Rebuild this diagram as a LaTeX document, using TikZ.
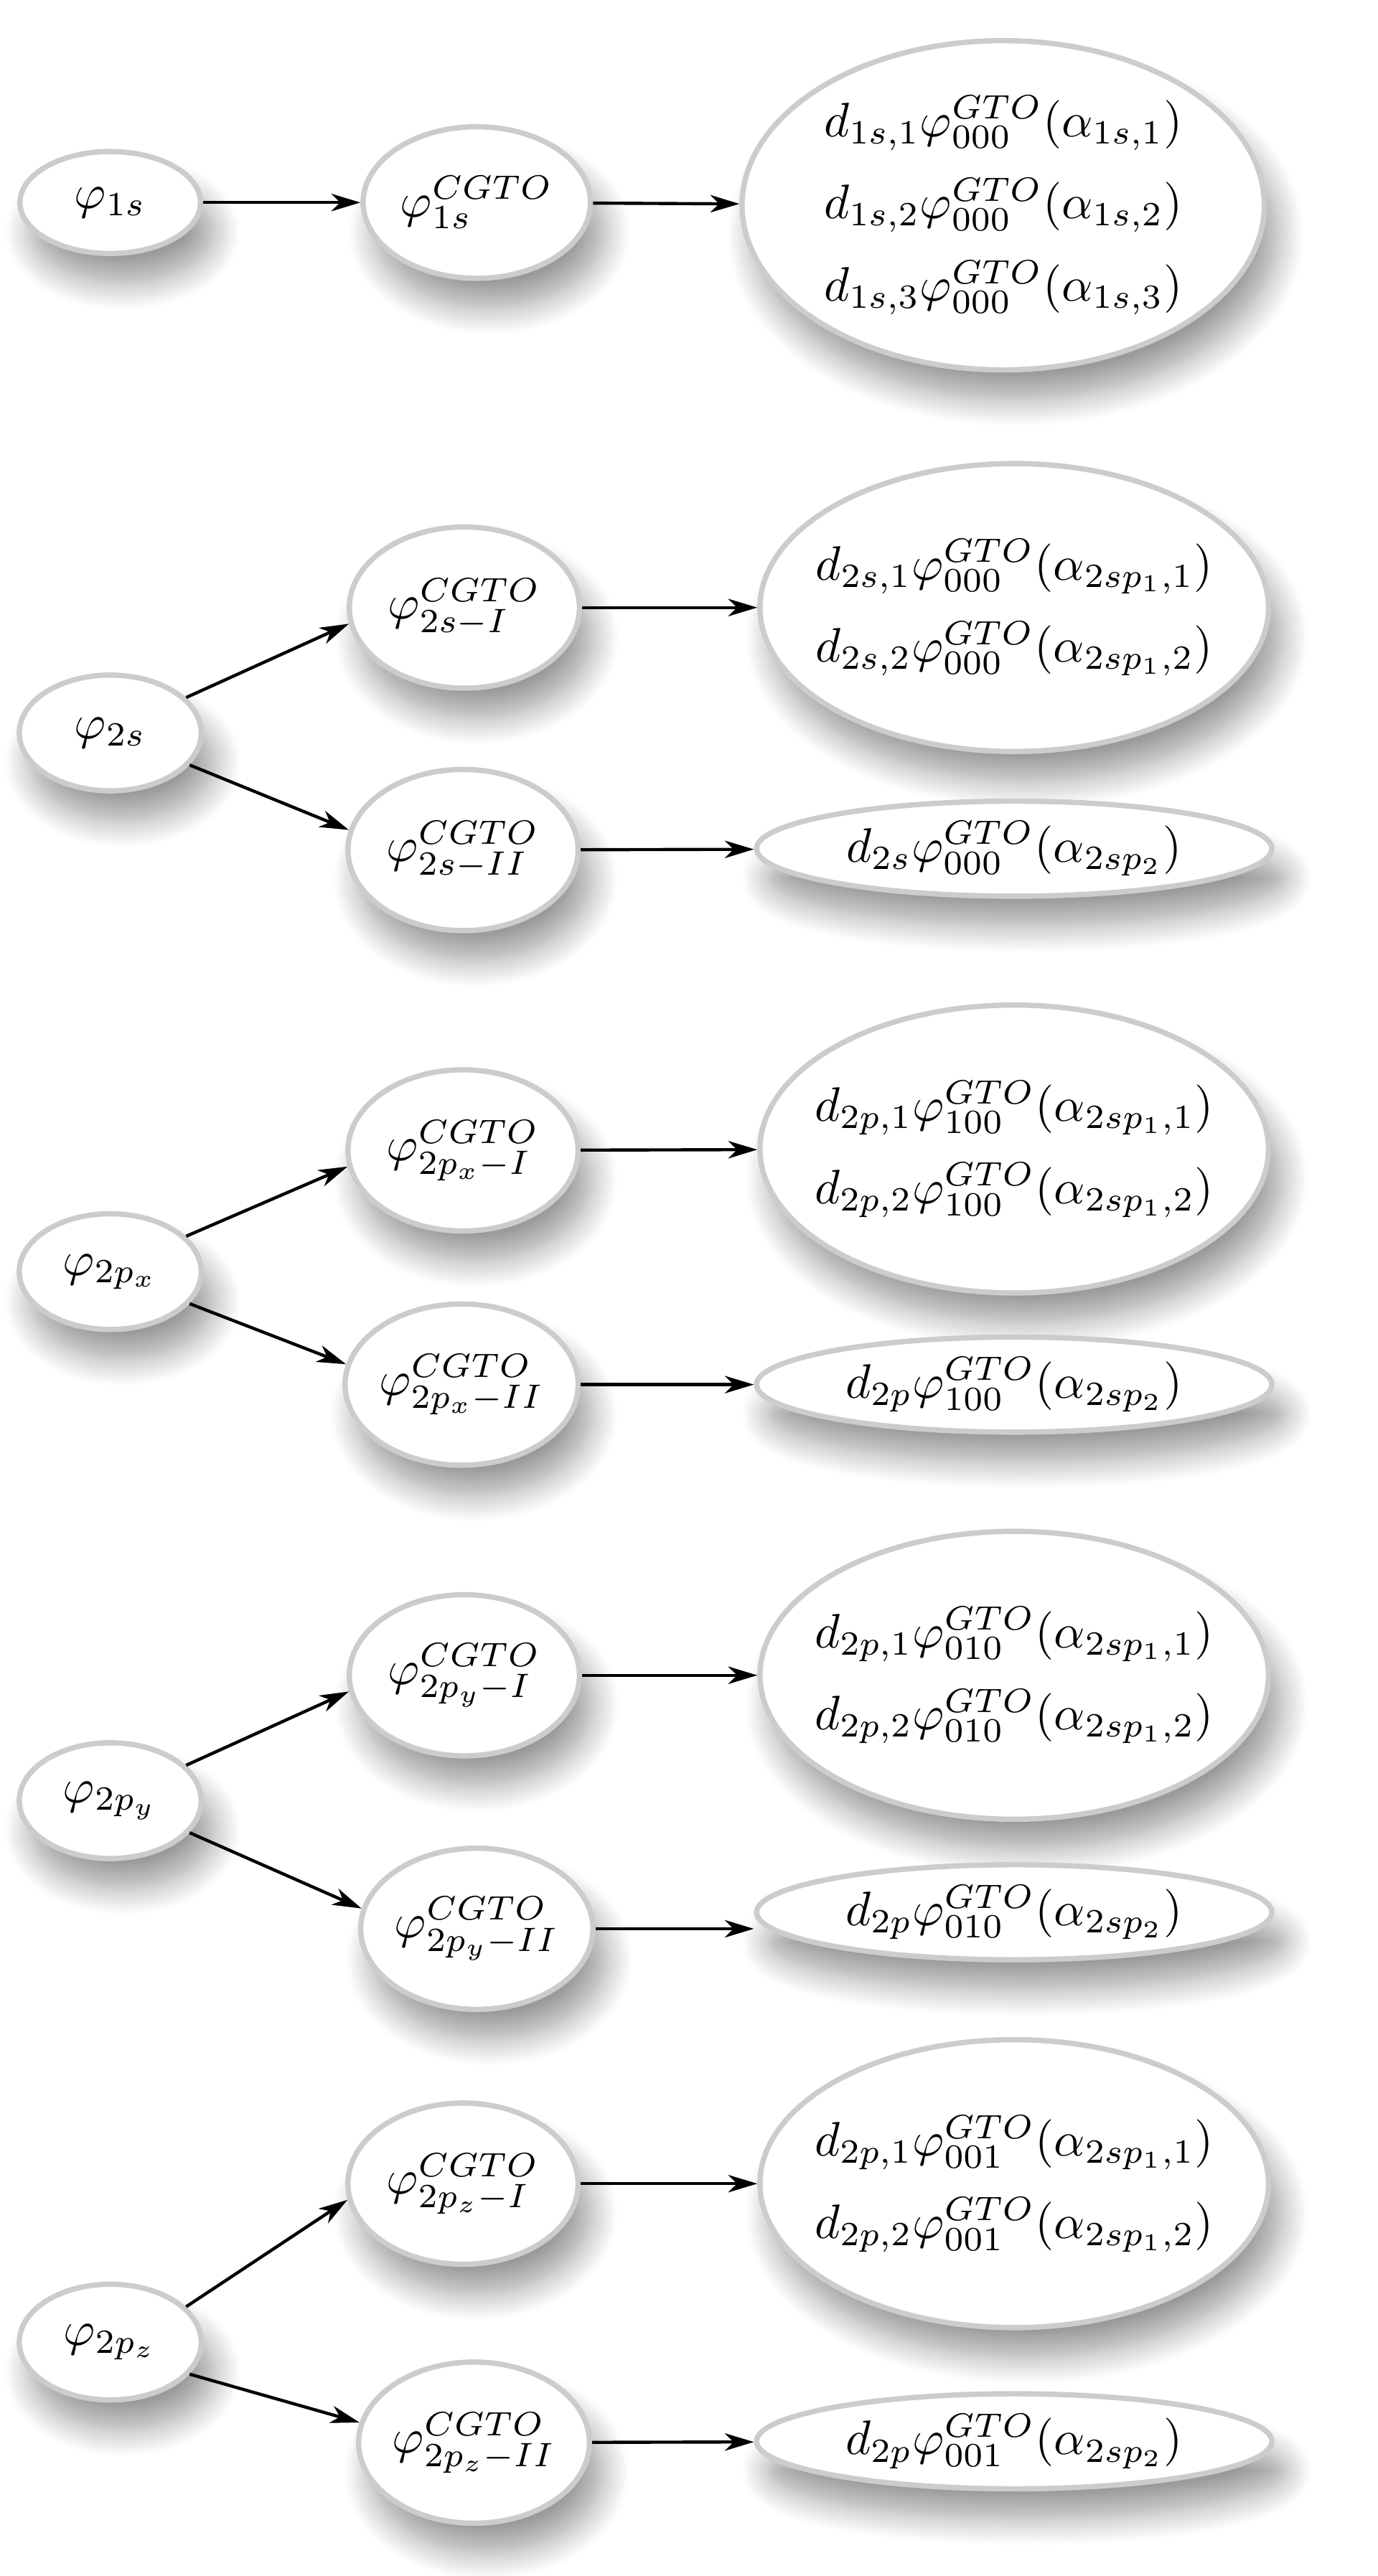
\documentclass[tikz,border=0pt]{standalone}
\usepackage{amssymb,amsmath}
\usepackage{tikz}
\usetikzlibrary{shapes.geometric}
\usetikzlibrary{arrows.meta}
\usetikzlibrary{shadows.blur}

\tikzset{
  orb/.style={ellipse, draw=black!20, line width=1.1pt, fill=white, inner sep=0pt,
    blur shadow={shadow xshift=0.6ex, shadow yshift=-1.4ex, shadow blur radius=1.3ex,
      shadow blur steps=14, shadow opacity=40}},
  src/.style={orb, minimum width=1.32cm, minimum height=0.84cm},
  cgto/.style={orb, minimum width=1.67cm, minimum height=1.17cm},
  prim/.style={orb, minimum width=3.69cm, minimum height=2.09cm, align=center, inner xsep=-5pt},
  single/.style={orb, minimum width=3.74cm, minimum height=0.69cm},
  link/.style={-{Stealth[length=6pt, width=3.6pt, inset=1.8pt]}, line width=0.65pt}
}

\begin{document}
\begin{tikzpicture}
        \useasboundingbox (0,0) rectangle (10,-18.698);

        \node[src, minimum width=1.31cm, minimum height=0.74cm] (P1s) at (0.80,-1.47) {$\varphi_{1s}$};
        \node[cgto, minimum width=1.65cm, minimum height=1.10cm] (C1s) at (3.46,-1.47) {$\varphi^{CGTO}_{1s}$};
        \node[prim, minimum width=3.79cm, minimum height=2.39cm] (D1s) at (7.28,-1.49)
          {$d_{1s,1}\varphi^{GTO}_{000}(\alpha_{1s,1})$\\[5pt]
           $d_{1s,2}\varphi^{GTO}_{000}(\alpha_{1s,2})$\\[5pt]
           $d_{1s,3}\varphi^{GTO}_{000}(\alpha_{1s,3})$};

        \node[src] (P2s) at (0.80,-5.32) {$\varphi_{2s}$};
        \node[cgto] (C2sI) at (3.37,-4.41) {$\varphi^{CGTO}_{2s-I}$};
        \node[cgto] (C2sII) at (3.36,-6.17) {$\varphi^{CGTO}_{2s-II}$};
        \node[prim] (D2sI) at (7.36,-4.41)
          {$d_{2s,1}\varphi^{GTO}_{000}(\alpha_{2sp_1,1})$\\[5pt]
           $d_{2s,2}\varphi^{GTO}_{000}(\alpha_{2sp_1,2})$};
        \node[single] (D2sII) at (7.36,-6.16) {$d_{2s}\varphi^{GTO}_{000}(\alpha_{2sp_2})$};

        \node[src] (P2px) at (0.80,-9.23) {$\varphi_{2p_x}$};
        \node[cgto] (C2pxI) at (3.36,-8.35) {$\varphi^{CGTO}_{2p_x-I}$};
        \node[cgto] (C2pxII) at (3.35,-10.05) {$\varphi^{CGTO}_{2p_x-II}$};
        \node[prim] (D2pxI) at (7.36,-8.34)
          {$d_{2p,1}\varphi^{GTO}_{100}(\alpha_{2sp_1,1})$\\[5pt]
           $d_{2p,2}\varphi^{GTO}_{100}(\alpha_{2sp_1,2})$};
        \node[single] (D2pxII) at (7.36,-10.05) {$d_{2p}\varphi^{GTO}_{100}(\alpha_{2sp_2})$};

        \node[src] (P2py) at (0.80,-13.07) {$\varphi_{2p_y}$};
        \node[cgto] (C2pyI) at (3.37,-12.16) {$\varphi^{CGTO}_{2p_y-I}$};
        \node[cgto] (C2pyII) at (3.46,-14.00) {$\varphi^{CGTO}_{2p_y-II}$};
        \node[prim] (D2pyI) at (7.36,-12.16)
          {$d_{2p,1}\varphi^{GTO}_{010}(\alpha_{2sp_1,1})$\\[5pt]
           $d_{2p,2}\varphi^{GTO}_{010}(\alpha_{2sp_1,2})$};
        \node[single] (D2pyII) at (7.36,-13.88) {$d_{2p}\varphi^{GTO}_{010}(\alpha_{2sp_2})$};

        \node[src] (P2pz) at (0.80,-17.00) {$\varphi_{2p_z}$};
        \node[cgto] (C2pzI) at (3.36,-15.85) {$\varphi^{CGTO}_{2p_z-I}$};
        \node[cgto] (C2pzII) at (3.44,-17.73) {$\varphi^{CGTO}_{2p_z-II}$};
        \node[prim] (D2pzI) at (7.36,-15.85)
          {$d_{2p,1}\varphi^{GTO}_{001}(\alpha_{2sp_1,1})$\\[5pt]
           $d_{2p,2}\varphi^{GTO}_{001}(\alpha_{2sp_1,2})$};
        \node[single] (D2pzII) at (7.36,-17.72) {$d_{2p}\varphi^{GTO}_{001}(\alpha_{2sp_2})$};

        \draw[link] (P1s) -- (C1s);
        \draw[link] (C1s) -- (D1s);
        \draw[link] (P2s.25) -- (C2sI.188);
        \draw[link] (P2s.-22) -- (C2sII.170);
        \draw[link] (C2sI) -- (D2sI);
        \draw[link] (C2sII) -- (D2sII);
        \draw[link] (P2px.25) -- (C2pxI.188);
        \draw[link] (P2px.-22) -- (C2pxII.170);
        \draw[link] (C2pxI) -- (D2pxI);
        \draw[link] (C2pxII) -- (D2pxII);
        \draw[link] (P2py.25) -- (C2pyI.188);
        \draw[link] (P2py.-22) -- (C2pyII.170);
        \draw[link] (C2pyI) -- (D2pyI);
        \draw[link] (C2pyII) -- (C2pyII -| D2pyII.west);
        \draw[link] (P2pz.25) -- (C2pzI.188);
        \draw[link] (P2pz.-22) -- (C2pzII.170);
        \draw[link] (C2pzI) -- (D2pzI);
        \draw[link] (C2pzII) -- (D2pzII);
      \end{tikzpicture}
\end{document}
